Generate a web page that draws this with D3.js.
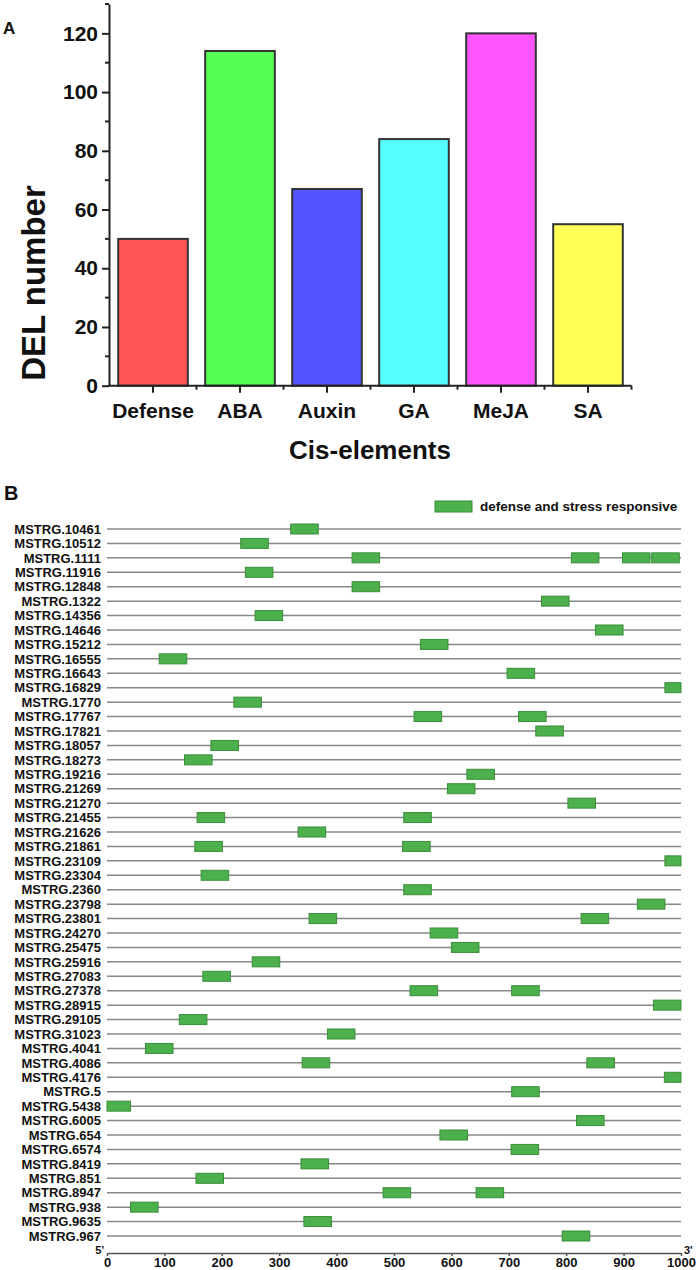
<!DOCTYPE html>
<html><head><meta charset="utf-8">
<script src="https://cdn.jsdelivr.net/npm/d3@7"></script>
<style>
body{margin:0;background:#fff;}
svg{display:block;}
text{font-family:"Liberation Sans",Arial,sans-serif;font-weight:bold;fill:#111;}
</style></head>
<body>
<svg id="chart" width="699" height="1270"></svg>
<script>
// ---- Panel A data ----
const categories = ["Defense","ABA","Auxin","GA","MeJA","SA"];
const delCounts = [50,114,67,84,120,55];
const barColors = ["#ff5555","#55ff55","#5555ff","#55ffff","#ff55ff","#ffff55"];
const yTickValues = [0,20,40,60,80,100,120];

// ---- Panel B data ----
const genes = ["MSTRG.10461","MSTRG.10512","MSTRG.1111","MSTRG.11916","MSTRG.12848","MSTRG.1322","MSTRG.14356","MSTRG.14646","MSTRG.15212","MSTRG.16555","MSTRG.16643","MSTRG.16829","MSTRG.1770","MSTRG.17767","MSTRG.17821","MSTRG.18057","MSTRG.18273","MSTRG.19216","MSTRG.21269","MSTRG.21270","MSTRG.21455","MSTRG.21626","MSTRG.21861","MSTRG.23109","MSTRG.23304","MSTRG.2360","MSTRG.23798","MSTRG.23801","MSTRG.24270","MSTRG.25475","MSTRG.25916","MSTRG.27083","MSTRG.27378","MSTRG.28915","MSTRG.29105","MSTRG.31023","MSTRG.4041","MSTRG.4086","MSTRG.4176","MSTRG.5","MSTRG.5438","MSTRG.6005","MSTRG.654","MSTRG.6574","MSTRG.8419","MSTRG.851","MSTRG.8947","MSTRG.938","MSTRG.9635","MSTRG.967"];
const elementStarts = [[320],[233],[427,809,898,949],[241],[427],[757],[258],[851],[546],[91],[697],[972],[221],[535,717],[747],[181],[135],[627],[593],[803],[157,517],[333],[153,515],[972],[164],[517],[924],[352,826],[563],[600],[253],[167],[528,705],[952],[126],[384],[67],[340,836],[971],[705],[-7],[818],[580],[704],[338],[155],[481,643],[41],[343],[793]];
const elementWidth = 48;
const posTicks = [0,100,200,300,400,500,600,700,800,900,1000];
const legendLabel = "defense and stress responsive";

const svg = d3.select("#chart");

// ================= Panel A =================
const gA = svg.append("g");
const xA = d3.scaleBand().domain(categories).range([109.5,631.5]).paddingInner(0.2).paddingOuter(0.1);
const yA = d3.scaleLinear().domain([0,130]).range([385.7,4]);

gA.append("text").attr("x",3).attr("y",34).attr("font-size",17).text("A");

gA.selectAll("rect.bar").data(categories).join("rect")
  .attr("class","bar")
  .attr("x",d=>xA(d)).attr("width",xA.bandwidth())
  .attr("y",(d,i)=>yA(delCounts[i])).attr("height",(d,i)=>yA(0)-yA(delCounts[i]))
  .attr("fill",(d,i)=>barColors[i]).attr("stroke","#333").attr("stroke-width",2);

// y axis
const yAxis = gA.append("g").attr("transform","translate(109,0)")
  .call(d3.axisLeft(yA).tickValues(yTickValues).tickSize(7).tickPadding(4).tickSizeOuter(0));
yAxis.select(".domain").attr("stroke","#222").attr("stroke-width",2);
yAxis.selectAll(".tick line").attr("stroke","#222").attr("stroke-width",2);
yAxis.selectAll("text").attr("font-size",21).attr("font-family","'Liberation Sans',Arial,sans-serif").attr("font-weight","bold").attr("fill","#111");
// minor y ticks
const yMinor = d3.range(10,131,20);
gA.selectAll("line.ymin").data(yMinor).join("line").attr("class","ymin")
  .attr("x1",105).attr("x2",109).attr("y1",d=>yA(d)).attr("y2",d=>yA(d))
  .attr("stroke","#222").attr("stroke-width",2);

// x axis
const xAxisG = gA.append("g").attr("transform","translate(0,385.7)");
xAxisG.append("line").attr("x1",108).attr("x2",631.5).attr("y1",0).attr("y2",0).attr("stroke","#222").attr("stroke-width",2);
xAxisG.selectAll("line.xmaj").data(categories).join("line").attr("class","xmaj")
  .attr("x1",d=>xA(d)+xA.bandwidth()/2).attr("x2",d=>xA(d)+xA.bandwidth()/2)
  .attr("y1",0).attr("y2",7).attr("stroke","#222").attr("stroke-width",2);
const step = xA.step();
xAxisG.selectAll("line.xmin").data(categories).join("line").attr("class","xmin")
  .attr("x1",d=>xA(d)+xA.bandwidth()/2+step/2).attr("x2",d=>xA(d)+xA.bandwidth()/2+step/2)
  .attr("y1",0).attr("y2",4).attr("stroke","#222").attr("stroke-width",2);
xAxisG.selectAll("text.xl").data(categories).join("text").attr("class","xl")
  .attr("x",d=>xA(d)+xA.bandwidth()/2).attr("y",32)
  .attr("text-anchor","middle").attr("font-size",21).text(d=>d);

gA.append("text").attr("x",370).attr("y",459).attr("text-anchor","middle").attr("font-size",26).text("Cis-elements");
gA.append("text").attr("transform","translate(45,283) rotate(-90)").attr("text-anchor","middle").attr("font-size",33).text("DEL number");

// ================= Panel B =================
const gB = svg.append("g");
const xB = d3.scaleLinear().domain([0,1000]).range([107,681]);
const yB = d3.scalePoint().domain(genes).range([529,1236]);
const boxH = 10;

gB.append("text").attr("x",4).attr("y",500).attr("font-size",20).text("B");

// legend
gB.append("rect").attr("x",435).attr("y",501).attr("width",37).attr("height",11)
  .attr("fill","#4cb04c").attr("stroke","#3a8c3a").attr("stroke-width",1);
gB.append("text").attr("x",480).attr("y",511).attr("font-size",13.5).text(legendLabel);

// row lines
gB.selectAll("line.row").data(genes).join("line").attr("class","row")
  .attr("x1",xB(0)).attr("x2",xB(1000)).attr("y1",d=>yB(d)).attr("y2",d=>yB(d))
  .attr("stroke","#888").attr("stroke-width",1.5);

// row labels
gB.selectAll("text.gl").data(genes).join("text").attr("class","gl")
  .attr("x",101).attr("y",d=>yB(d)).attr("dy","0.36em")
  .attr("text-anchor","end").attr("font-size",13).text(d=>d);

// elements
const elems = [];
genes.forEach((g,i)=>elementStarts[i].forEach(s=>elems.push({gene:g,start:s})));
gB.selectAll("rect.el").data(elems).join("rect").attr("class","el")
  .attr("x",d=>xB(Math.max(0,d.start)))
  .attr("width",d=>xB(Math.min(1000,d.start+elementWidth))-xB(Math.max(0,d.start)))
  .attr("y",d=>yB(d.gene)-boxH/2).attr("height",boxH)
  .attr("fill","#4cb04c").attr("stroke","#3a8c3a").attr("stroke-width",1);

// x axis B
const xAxisB = gB.append("g").attr("transform","translate(0,1253)")
  .call(d3.axisBottom(xB).tickValues(posTicks).tickFormat(d3.format("d")).tickSize(3).tickPadding(2).tickSizeOuter(0));
xAxisB.select(".domain").attr("stroke","#555").attr("stroke-width",1.5);
xAxisB.selectAll(".tick line").attr("stroke","#555").attr("stroke-width",1.5);
xAxisB.selectAll("text").attr("font-size",13).attr("font-family","'Liberation Sans',Arial,sans-serif").attr("font-weight","bold").attr("fill","#111");

gB.append("text").attr("x",104).attr("y",1254).attr("text-anchor","end").attr("font-size",11).text("5'");
gB.append("text").attr("x",684).attr("y",1254).attr("font-size",11).text("3'");
</script>
</body></html>
